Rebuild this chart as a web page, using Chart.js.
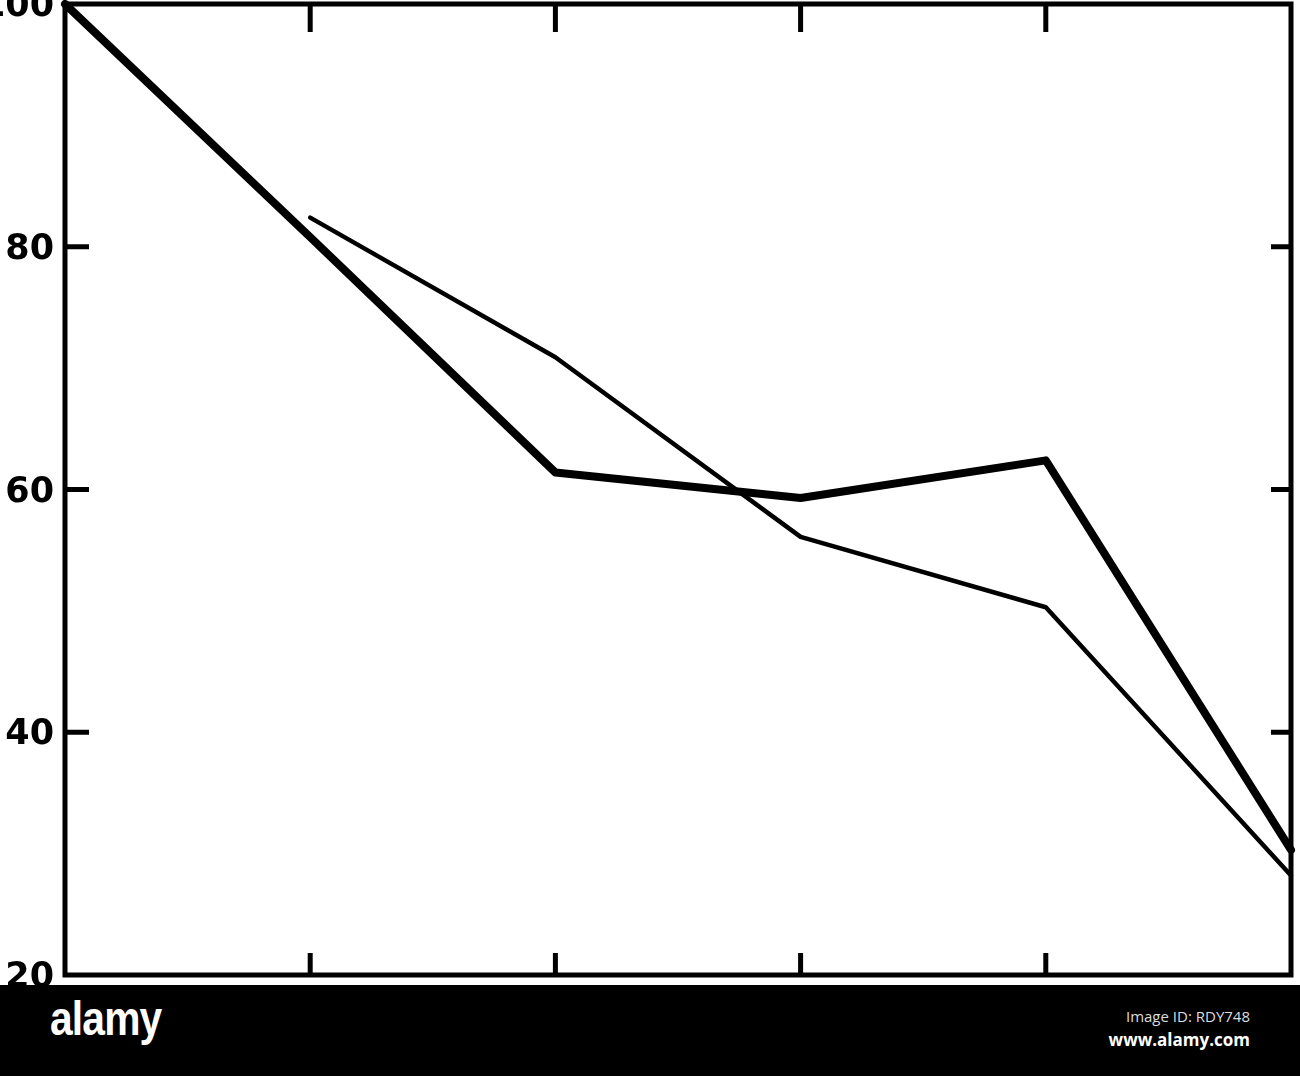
<!DOCTYPE html>
<html>
<head>
<meta charset="utf-8">
<script src="https://cdn.jsdelivr.net/npm/chart.js@4.4.1/dist/chart.umd.min.js"></script>
<style>
  html, body { margin: 0; padding: 0; background: #fff; }
  #wrap { width: 1300px; height: 985px; position: relative; }
  #banner { width: 1300px; height: 91px; background: #000; position: relative; overflow: hidden; }
  #logo { position: absolute; left: 50px; top: 6px; color: #fff; font-family: "Liberation Sans Narrow", "Liberation Sans", sans-serif;
          font-weight: bold; font-size: 48px; letter-spacing: -1px; transform: scaleX(0.85); transform-origin: left top; }
  #imgid { position: absolute; right: 50px; top: 21px; color: #ddd; font-family: "Open Sans", "Noto Sans", sans-serif; font-size: 15px; }
  #site { position: absolute; right: 50px; top: 43px; color: #fff; font-family: "Open Sans", "Noto Sans", sans-serif; font-size: 17px; font-weight: bold; }
</style>
</head>
<body>
<div id="wrap"><canvas id="chart" width="1300" height="985"></canvas></div>
<div id="banner">
  <div id="logo">alamy</div>
  <div id="imgid">Image ID: RDY748</div>
  <div id="site">www.alamy.com</div>
</div>
<script>
// values
var xPositions = [0, 1, 2, 3, 4, 5];
var thickSeries = [100, 80.8, 61.4, 59.3, 62.4, 30.3];
var thinSeries = [null, 82.4, 70.9, 56.1, 50.3, 28.2];
var yTicks = [20, 40, 60, 80, 100];

function points(ys) {
  return xPositions.map(function(x, i) { return { x: x, y: ys[i] }; });
}

// box round the plot plus short inward ticks on all four sides
var frame = {
  id: 'frame',
  afterDraw: function(chart) {
    var c = chart.ctx, a = chart.chartArea;
    var xs = chart.scales.x, ys = chart.scales.y;
    c.save();
    c.strokeStyle = '#000';
    c.lineWidth = 5;
    c.strokeRect(a.left, a.top, a.right - a.left, a.bottom - a.top);
    c.beginPath();
    xPositions.slice(1, -1).forEach(function(v) {
      var px = xs.getPixelForValue(v);
      c.moveTo(px, a.bottom); c.lineTo(px, a.bottom - 22);
      c.moveTo(px, a.top); c.lineTo(px, a.top + 28);
    });
    yTicks.slice(1, -1).forEach(function(v) {
      var py = ys.getPixelForValue(v);
      c.moveTo(a.left, py); c.lineTo(a.left + 24, py);
      c.moveTo(a.right, py); c.lineTo(a.right - 20, py);
    });
    c.stroke();
    c.restore();
  }
};

var ctx = document.getElementById('chart').getContext('2d');
var myChart = new Chart(ctx, {
  type: 'line',
  data: {
    datasets: [{
      data: points(thickSeries),
      borderColor: '#000',
      borderWidth: 8,
      borderJoinStyle: 'round',
      borderCapStyle: 'round',
      pointRadius: 0,
      tension: 0,
      clip: 6
    },
    {
      data: points(thinSeries),
      borderColor: '#000',
      borderWidth: 4.5,
      borderJoinStyle: 'round',
      borderCapStyle: 'round',
      pointRadius: 0,
      tension: 0,
      clip: 6
    }]
  },
  options: {
    responsive: false,
    animation: false,
    devicePixelRatio: 1,
    layout: { padding: { top: 4, right: 9, left: 0, bottom: 0 } },
    plugins: { legend: { display: false }, tooltip: { enabled: false } },
    scales: {
      x: {
        type: 'linear',
        min: 0,
        max: 5,
        grid: { display: false, drawTicks: false },
        border: { display: false },
        ticks: { display: false },
        afterFit: function(s) { s.height = 10; s.paddingLeft = 0; s.paddingRight = 0; }
      },
      y: {
        min: 20,
        max: 100,
        grid: { display: false, drawTicks: false },
        border: { display: false },
        afterBuildTicks: function(s) { s.ticks = yTicks.map(function(v) { return { value: v }; }); },
        ticks: {
          color: '#000',
          padding: 11,
          labelOffset: 3,
          font: { family: 'DejaVu Sans', size: 35, weight: 'bold' }
        },
        afterFit: function(s) { s.width = 65; s.paddingTop = 0; s.paddingBottom = 0; }
      }
    }
  },
  plugins: [frame]
});
</script>
</body>
</html>
